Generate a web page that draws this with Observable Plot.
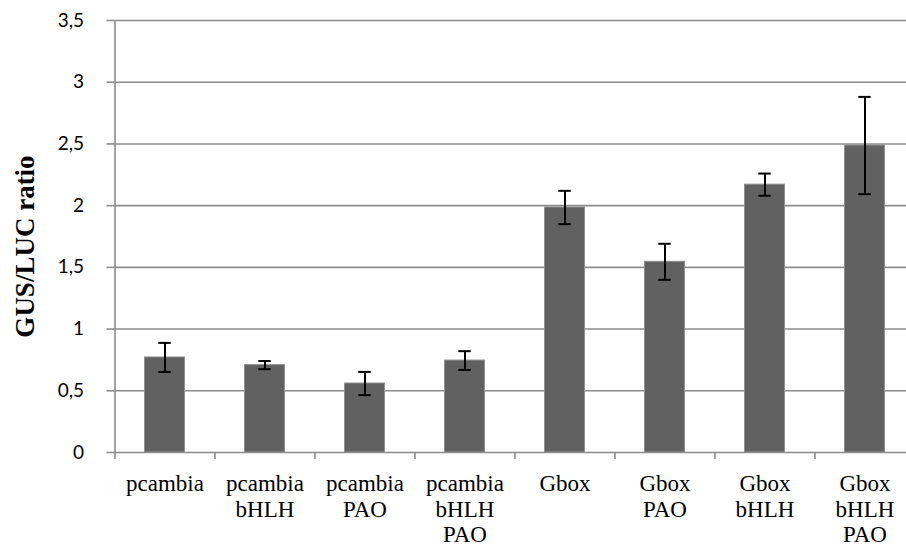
<!DOCTYPE html>
<html>
<head>
<meta charset="utf-8">
<script src="https://cdn.jsdelivr.net/npm/d3@7"></script>
<script src="https://cdn.jsdelivr.net/npm/@observablehq/plot@0.6"></script>
<style>
  html, body { margin: 0; padding: 0; background: #fff; overflow: hidden; }
  #chart svg { display: block; overflow: hidden; }
</style>
</head>
<body>
<div id="chart"></div>
<script>
const categories = ["pcambia", "pcambia\nbHLH", "pcambia\nPAO", "pcambia\nbHLH\nPAO", "Gbox", "Gbox\nPAO", "Gbox\nbHLH", "Gbox\nbHLH\nPAO"];
const values = [0.77, 0.708, 0.559, 0.745, 1.985, 1.545, 2.17, 2.487];
const errors = [0.118, 0.033, 0.094, 0.076, 0.135, 0.146, 0.09, 0.394];
const yTicks = [0, 0.5, 1, 1.5, 2, 2.5, 3, 3.5];
const yTitle = "GUS/LUC ratio";

const data = categories.map((c, i) => ({i, c, value: values[i], err: errors[i]}));
const capHalf = 0.062;
const grey = "#8c8c8c";

const chart = Plot.plot({
  width: 906,
  height: 547,
  marginLeft: 114.5,
  marginRight: -8.5,
  marginTop: 20,
  marginBottom: 95,
  x: {domain: [0, categories.length], axis: null},
  y: {domain: [0, 3.5], axis: null},
  marks: [
    Plot.ruleY(yTicks.filter(d => d > 0), {stroke: grey, strokeWidth: 1.6}),
    Plot.rectY(data, {x1: d => d.i, x2: d => d.i + 1, y: "value", insetLeft: 30, insetRight: 30, fill: "#616161", stroke: "#8f8f8f", strokeWidth: 1}),
    Plot.ruleY([0], {stroke: grey, strokeWidth: 1.6}),
    Plot.ruleX([0], {stroke: grey, strokeWidth: 1.6}),
    Plot.ruleX(data, {x: d => d.i + 0.5, y1: d => d.value - d.err, y2: d => d.value + d.err, stroke: "black", strokeWidth: 2}),
    Plot.ruleY(data, {y: d => d.value + d.err, x1: d => d.i + 0.5 - capHalf, x2: d => d.i + 0.5 + capHalf, stroke: "black", strokeWidth: 2}),
    Plot.ruleY(data, {y: d => d.value - d.err, x1: d => d.i + 0.5 - capHalf, x2: d => d.i + 0.5 + capHalf, stroke: "black", strokeWidth: 2}),
    Plot.axisY({ticks: yTicks, tickSize: 8, tickPadding: 23, stroke: grey, strokeWidth: 1.6, fill: "black",
      tickFormat: d => String(d).replace(".", ","), fontFamily: "Lato, 'Open Sans', sans-serif", fontSize: 19, label: null}),
    Plot.axisX({ticks: d3.range(0, categories.length + 1), tickSize: 7, stroke: grey, strokeWidth: 1.6, tickFormat: () => "", label: null}),
    Plot.axisX({ticks: data.map(d => d.i + 0.5), tickSize: 0, tickPadding: 20, fill: "black",
      tickFormat: (d, k) => categories[k], fontFamily: "'Liberation Serif', 'Times New Roman', serif", fontSize: 23, lineHeight: 1.12, label: null}),
    Plot.text([yTitle], {text: d => d, frameAnchor: "left", textAnchor: "middle", rotate: -90, dx: -90, dy: 10,
      fontFamily: "'Liberation Serif', 'Times New Roman', serif", fontWeight: "bold", fontSize: 27, fill: "black"})
  ]
});
document.getElementById("chart").appendChild(chart);
</script>
</body>
</html>
